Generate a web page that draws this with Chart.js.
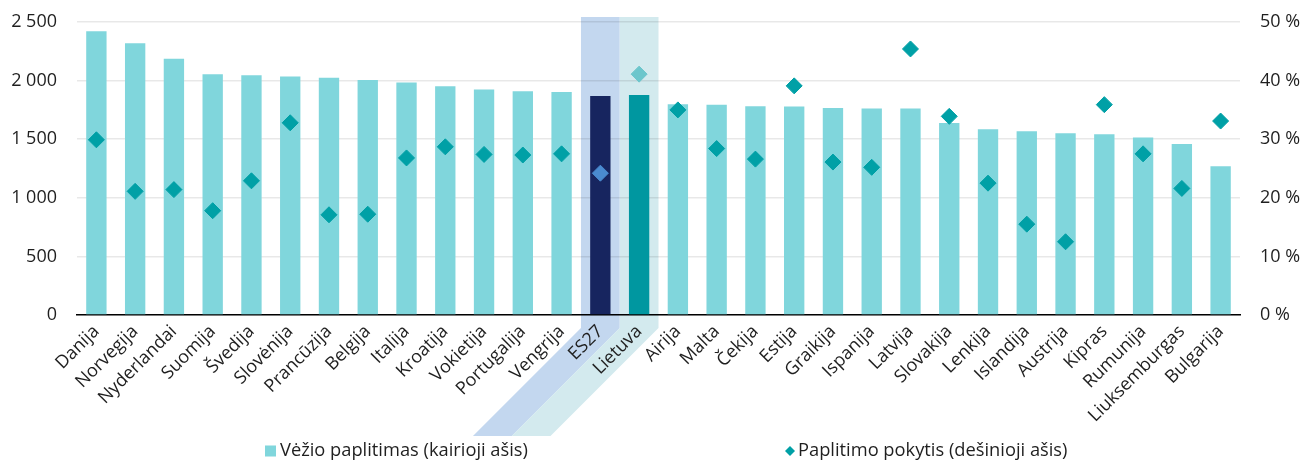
<!DOCTYPE html>
<html>
<head>
<meta charset="utf-8">
<script src="https://cdn.jsdelivr.net/npm/chart.js@4/dist/chart.umd.min.js"></script>
<style>
  html, body { margin: 0; padding: 0; background: #ffffff; }
  #wrap { width: 1301px; height: 461px; }
</style>
</head>
<body>
<div id="wrap"><canvas id="c" width="1301" height="461"></canvas></div>
<script>
// Countries, EU average and Lithuania
const categories = [
  'Danija', 'Norvegija', 'Nyderlandai', 'Suomija', 'Švedija', 'Slovėnija', 'Prancūzija',
  'Belgija', 'Italija', 'Kroatija', 'Vokietija', 'Portugalija', 'Vengrija', 'ES27', 'Lietuva',
  'Airija', 'Malta', 'Čekija', 'Estija', 'Graikija', 'Ispanija', 'Latvija', 'Slovakija',
  'Lenkija', 'Islandija', 'Austrija', 'Kipras', 'Rumunija', 'Liuksemburgas', 'Bulgarija'
];

// Cancer prevalence (left axis)
const prevalence = [
  2421, 2318, 2187, 2054, 2046, 2034, 2025,
  2006, 1983, 1952, 1923, 1909, 1903, 1869, 1878,
  1798, 1795, 1781, 1778, 1767, 1761, 1761, 1639,
  1585, 1568, 1551, 1543, 1514, 1460, 1270
];

// Change in prevalence, % (right axis)
const prevalenceChange = [
  29.9, 21.1, 21.4, 17.8, 22.9, 32.8, 17.1,
  17.2, 26.8, 28.7, 27.4, 27.3, 27.5, 24.2, 41.1,
  35.0, 28.4, 26.6, 39.1, 26.1, 25.2, 45.4, 33.9,
  22.5, 15.5, 12.5, 35.9, 27.5, 21.6, 33.1
];

const leftTicks = [0, 500, 1000, 1500, 2000, 2500];
const rightTicks = [0, 10, 20, 30, 40, 50];

const seriesNames = ['Vėžio paplitimas (kairioji ašis)', 'Paplitimo pokytis (dešinioji ašis)'];

const EU_LABEL = 'ES27';
const LT_LABEL = 'Lietuva';

const FONT = "'Open Sans', 'Noto Sans', sans-serif";
const TEXT = '#1f1f1f';

const BAR = '#80d6dc';
const BAR_EU = '#17255f';
const BAR_LT = '#0097a0';
const DOT = '#00a0a6';
const DOT_EU = '#4a8bd0';
const DOT_LT = '#6cc6cc';
const BAND_EU = '#c3d7ef';
const BAND_LT = '#d3eaee';

const barColors = categories.map(c => c === EU_LABEL ? BAR_EU : c === LT_LABEL ? BAR_LT : BAR);
const dotColors = categories.map(c => c === EU_LABEL ? DOT_EU : c === LT_LABEL ? DOT_LT : DOT);

function spaced(v) {
  return String(v).replace(/\B(?=(\d{3})+(?!\d))/g, ' ');
}

// Highlight bands behind the EU and Lithuania columns, running down along their tilted labels
const highlightBands = {
  id: 'highlightBands',
  beforeDraw(chart) {
    const { ctx, chartArea } = chart;
    const x = chart.scales.x;
    const half = x.width / categories.length / 2;
    const top = chartArea.top - 5;
    const bend = chartArea.bottom + 13;
    const bottom = chart.height - 25;
    const shift = bottom - bend;
    const draw = (label, color) => {
      const idx = categories.indexOf(label);
      const cx = x.getPixelForValue(idx);
      const l = cx - half, r = cx + half;
      ctx.save();
      ctx.fillStyle = color;
      ctx.beginPath();
      ctx.moveTo(l, top);
      ctx.lineTo(r, top);
      ctx.lineTo(r, bend);
      ctx.lineTo(r - shift, bottom);
      ctx.lineTo(l - shift, bottom);
      ctx.lineTo(l, bend);
      ctx.closePath();
      ctx.fill();
      ctx.restore();
    };
    draw(EU_LABEL, BAND_EU);
    draw(LT_LABEL, BAND_LT);
  }
};

// Two-item legend spread across the bottom
const spreadLegend = {
  id: 'spreadLegend',
  afterDraw(chart) {
    const { ctx } = chart;
    const y = chart.height - 10;
    ctx.save();
    ctx.font = '18.3px ' + FONT;
    ctx.textBaseline = 'middle';
    ctx.textAlign = 'left';
    // bar swatch
    const x1 = 265;
    ctx.fillStyle = BAR;
    ctx.fillRect(x1, y - 5.5, 11, 11);
    ctx.fillStyle = TEXT;
    ctx.fillText(seriesNames[0], x1 + 15, y);
    // diamond marker
    const x2 = 790;
    ctx.fillStyle = DOT;
    ctx.beginPath();
    ctx.moveTo(x2 - 5, y);
    ctx.lineTo(x2, y - 5);
    ctx.lineTo(x2 + 5, y);
    ctx.lineTo(x2, y + 5);
    ctx.closePath();
    ctx.fill();
    ctx.fillStyle = TEXT;
    ctx.fillText(seriesNames[1], x2 + 8, y);
    ctx.restore();
  }
};

function fixVertical(width) {
  return function (scale) {
    scale.width = width;
    scale.paddingTop = 0;
    scale.paddingBottom = 0;
  };
}

new Chart(document.getElementById('c'), {
  data: {
    labels: categories,
    datasets: [
      {
        type: 'line',
        label: seriesNames[1],
        data: prevalenceChange,
        yAxisID: 'y2',
        showLine: false,
        pointStyle: 'rectRot',
        pointRadius: 8,
        pointHoverRadius: 8,
        pointBackgroundColor: dotColors,
        pointBorderColor: dotColors,
        pointBorderWidth: 1,
        order: 0
      },
      {
        type: 'bar',
        label: seriesNames[0],
        data: prevalence,
        yAxisID: 'y',
        backgroundColor: barColors,
        categoryPercentage: 1,
        barPercentage: 0.525,
        order: 1
      }
    ]
  },
  options: {
    responsive: false,
    devicePixelRatio: 1,
    animation: false,
    layout: { padding: { top: 22, left: 0, right: 0, bottom: 0 } },
    plugins: {
      legend: { display: false },
      tooltip: { enabled: false }
    },
    scales: {
      x: {
        grid: { display: false, drawTicks: false },
        border: { display: true, color: '#000000', width: 1.5 },
        ticks: {
          color: TEXT,
          font: { family: FONT, size: 18 },
          minRotation: 45,
          maxRotation: 45,
          autoSkip: false,
          padding: 6
        },
        afterFit(scale) {
          scale.height = 146;
          scale.paddingLeft = 0;
          scale.paddingRight = 0;
        }
      },
      y: {
        position: 'left',
        min: 0,
        max: 2500,
        afterBuildTicks(scale) { scale.ticks = leftTicks.map(v => ({ value: v })); },
        grid: { color: 'rgba(0,0,0,0.09)', lineWidth: 1.5, drawTicks: false },
        border: { display: false },
        ticks: {
          color: TEXT,
          font: { family: FONT, size: 18 },
          padding: 20,
          callback: v => spaced(v)
        },
        afterFit: fixVertical(77)
      },
      y2: {
        position: 'right',
        min: 0,
        max: 50,
        afterBuildTicks(scale) { scale.ticks = rightTicks.map(v => ({ value: v })); },
        grid: { display: false, drawTicks: false },
        border: { display: false },
        ticks: {
          color: TEXT,
          font: { family: FONT, size: 18 },
          padding: 20,
          callback: v => v + ' %'
        },
        afterFit: fixVertical(61)
      }
    }
  },
  plugins: [highlightBands, spreadLegend]
});
</script>
</body>
</html>
